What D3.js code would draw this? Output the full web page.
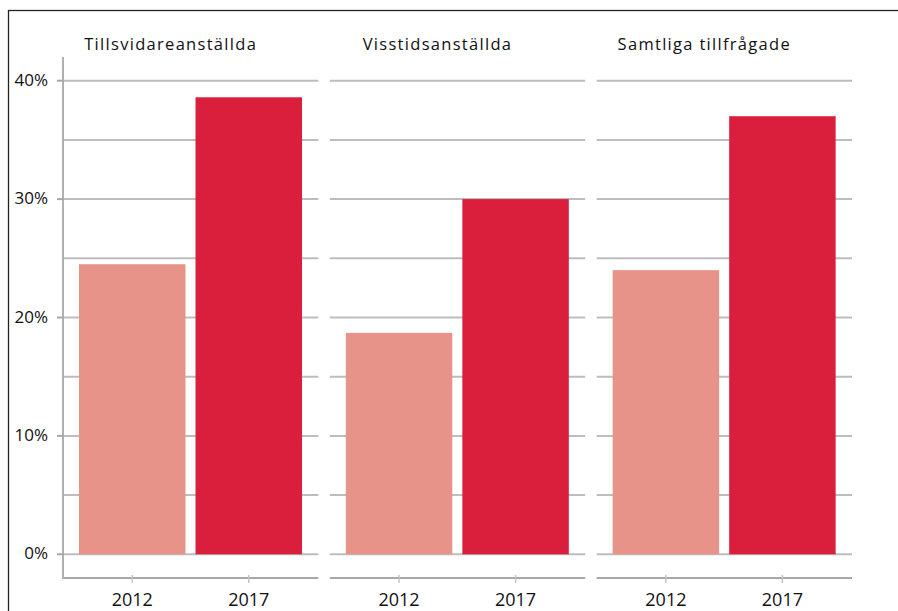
<!DOCTYPE html>
<html>
<head>
<meta charset="utf-8">
<script src="https://cdn.jsdelivr.net/npm/d3@7"></script>
<style>
  body { margin: 0; background: #fff; }
  text { font-family: "Open Sans", "DejaVu Sans", sans-serif; fill: #111; }
</style>
</head>
<body>
<div id="svg-holder"></div>
<script>
// data
const groups = ["Tillsvidareanställda", "Visstidsanställda", "Samtliga tillfrågade"];
const years = ["2012", "2017"];
const values2012 = [24.5, 18.7, 24.0];
const values2017 = [38.6, 30.0, 37.0];
const yTicks = [0, 10, 20, 30, 40];
const yGrid = [0, 5, 10, 15, 20, 25, 30, 35, 40];

const colors = { "2012": "#e8938a", "2017": "#da1f3c" };

let svg = d3.select("#svg-holder").append("svg")
  .attr("width", 898)
  .attr("height", 611);

// outer frame
svg.append("rect")
  .attr("x", 8.5).attr("y", 10.5)
  .attr("width", 1000).attr("height", 1000)
  .attr("fill", "none")
  .attr("stroke", "#222")
  .attr("stroke-width", 1.3);

// scales
let y = d3.scaleLinear().domain([0, 40]).range([554.3, 80.7]);
let panel = d3.scaleBand().domain(groups).range([63, 852]).paddingInner(0.043);
let inner = d3.scaleBand().domain(years).range([16, 239]).paddingInner(0.086);

let rows = groups.map((g, i) => ({ group: g, vals: { "2012": values2012[i], "2017": values2017[i] } }));

// gridlines per panel
let panels = svg.selectAll("g.panel")
  .data(rows)
  .enter().append("g")
  .attr("class", "panel")
  .attr("transform", d => `translate(${panel(d.group)},0)`);

panels.selectAll("line.grid")
  .data(yGrid)
  .enter().append("line")
  .attr("class", "grid")
  .attr("x1", 0).attr("x2", panel.bandwidth())
  .attr("y1", d => y(d)).attr("y2", d => y(d))
  .attr("stroke", "#bdbdbd")
  .attr("stroke-width", 2);

// bars
panels.selectAll("rect.bar")
  .data(d => years.map(yr => ({ year: yr, value: d.vals[yr] })))
  .enter().append("rect")
  .attr("class", "bar")
  .attr("x", d => inner(d.year))
  .attr("width", inner.bandwidth())
  .attr("y", d => y(d.value))
  .attr("height", d => y(0) - y(d.value))
  .attr("fill", d => colors[d.year]);

// bottom axis segment per panel
panels.append("line")
  .attr("x1", 0).attr("x2", panel.bandwidth())
  .attr("y1", 578).attr("y2", 578)
  .attr("stroke", "#a8a8a8")
  .attr("stroke-width", 2);

panels.selectAll("line.xtick")
  .data(years)
  .enter().append("line")
  .attr("class", "xtick")
  .attr("x1", d => inner(d) + inner.bandwidth() / 2)
  .attr("x2", d => inner(d) + inner.bandwidth() / 2)
  .attr("y1", 575).attr("y2", 583)
  .attr("stroke", "#c4c4c4")
  .attr("stroke-width", 1.5);

panels.selectAll("text.year")
  .data(years)
  .enter().append("text")
  .attr("class", "year")
  .attr("x", d => inner(d) + inner.bandwidth() / 2)
  .attr("y", 606)
  .attr("text-anchor", "middle")
  .attr("font-size", 18)
  .text(d => d);

// panel titles
panels.append("text")
  .attr("x", panel.bandwidth() / 2 - 20)
  .attr("y", 50)
  .attr("text-anchor", "middle")
  .attr("font-size", 16.5)
  .attr("letter-spacing", 1.3)
  .text(d => d.group);

// y axis line
svg.append("line")
  .attr("x1", 63).attr("x2", 63)
  .attr("y1", 57).attr("y2", 579)
  .attr("stroke", "#b0b0b0")
  .attr("stroke-width", 2);

// y ticks and labels
svg.selectAll("line.ytick")
  .data(yTicks)
  .enter().append("line")
  .attr("class", "ytick")
  .attr("x1", 57).attr("x2", 64)
  .attr("y1", d => y(d)).attr("y2", d => y(d))
  .attr("stroke", "#a8a8a8")
  .attr("stroke-width", 2);

svg.selectAll("text.ylab")
  .data(yTicks)
  .enter().append("text")
  .attr("class", "ylab")
  .attr("x", 48)
  .attr("y", d => y(d) + 5)
  .attr("text-anchor", "end")
  .attr("font-size", 17)
  .text(d => d + "%");
</script>
</body>
</html>
